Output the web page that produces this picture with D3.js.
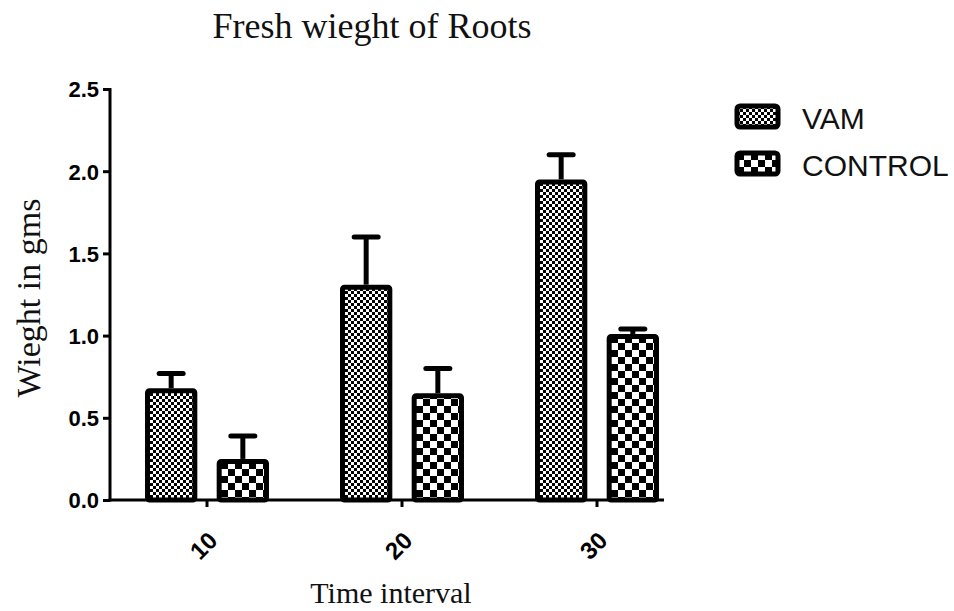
<!DOCTYPE html>
<html>
<head>
<meta charset="utf-8">
<script src="https://cdn.jsdelivr.net/npm/d3@7"></script>
<style>
  body { margin: 0; background: #fff; }
  svg { display: block; }
</style>
</head>
<body>
<div id="chart"></div>
<script>
var categories = ['10', '20', '30'];
var seriesNames = ['VAM', 'CONTROL'];
var vamValues = [0.68, 1.31, 1.95];
var vamErrors = [0.09, 0.29, 0.15];
var controlValues = [0.25, 0.65, 1.01];
var controlErrors = [0.14, 0.15, 0.03];
var yTicks = [0.0, 0.5, 1.0, 1.5, 2.0, 2.5];

var width = 954;
var height = 611;

var svg = d3.select('#chart').append('svg')
  .attr('width', width)
  .attr('height', height);

var defs = svg.append('defs');

// fine checker for VAM
var fine = defs.append('pattern')
  .attr('id', 'fine')
  .attr('patternUnits', 'userSpaceOnUse')
  .attr('width', 6).attr('height', 6);
fine.append('rect').attr('width', 6).attr('height', 6).attr('fill', '#fff');
fine.append('rect').attr('width', 3).attr('height', 3).attr('fill', '#000');
fine.append('rect').attr('x', 3).attr('y', 3).attr('width', 3).attr('height', 3).attr('fill', '#000');

// coarse checker for CONTROL
var coarse = defs.append('pattern')
  .attr('id', 'coarse')
  .attr('patternUnits', 'userSpaceOnUse')
  .attr('width', 14).attr('height', 14);
coarse.append('rect').attr('width', 14).attr('height', 14).attr('fill', '#fff');
coarse.append('rect').attr('width', 7).attr('height', 7).attr('fill', '#000');
coarse.append('rect').attr('x', 7).attr('y', 7).attr('width', 7).attr('height', 7).attr('fill', '#000');

var fills = { VAM: 'url(#fine)', CONTROL: 'url(#coarse)' };

var data = categories.map(function (c, i) {
  return {
    cat: c,
    bars: [
      { key: 'VAM', value: vamValues[i], err: vamErrors[i] },
      { key: 'CONTROL', value: controlValues[i], err: controlErrors[i] }
    ]
  };
});

var x = d3.scaleBand()
  .domain(categories)
  .range([109.5, 694.5])
  .padding(0);

var x1 = d3.scaleBand()
  .domain(seriesNames)
  .range([-62, 62])
  .paddingInner(0.27)
  .paddingOuter(0);

var y = d3.scaleLinear()
  .domain([0, 2.5])
  .range([500, 89]);

var axisX = 110;
var sw = 5;

// bars
var groups = svg.selectAll('.group')
  .data(data)
  .enter().append('g')
  .attr('class', 'group')
  .attr('transform', function (d) { return 'translate(' + (x(d.cat) + x.bandwidth() / 2) + ',0)'; });

// error bars (behind bars)
groups.selectAll('.err')
  .data(function (d) { return d.bars; })
  .enter().append('g')
  .attr('class', 'err')
  .each(function (d) {
    var g = d3.select(this);
    var cx = x1(d.key) + x1.bandwidth() / 2;
    g.append('line')
      .attr('x1', cx).attr('x2', cx)
      .attr('y1', y(d.value)).attr('y2', y(d.value + d.err))
      .attr('stroke', '#000').attr('stroke-width', 5);
    g.append('line')
      .attr('x1', cx - 12).attr('x2', cx + 12)
      .attr('y1', y(d.value + d.err)).attr('y2', y(d.value + d.err))
      .attr('stroke', '#000').attr('stroke-width', 5)
      .attr('stroke-linecap', 'round');
  });

groups.selectAll('.bar')
  .data(function (d) { return d.bars; })
  .enter().append('rect')
  .attr('class', 'bar')
  .attr('x', function (d) { return x1(d.key) + sw / 2; })
  .attr('width', x1.bandwidth() - sw)
  .attr('y', function (d) { return y(d.value) + sw / 2; })
  .attr('height', function (d) { return y(0) - y(d.value) - sw / 2; })
  .attr('rx', 2)
  .attr('fill', function (d) { return fills[d.key]; })
  .attr('stroke', '#000')
  .attr('stroke-width', sw);

// y axis
var yAxis = d3.axisLeft(y)
  .tickValues(yTicks)
  .tickFormat(d3.format('.1f'))
  .tickSize(7)
  .tickPadding(4);

var gy = svg.append('g')
  .attr('transform', 'translate(' + axisX + ',0)')
  .call(yAxis);
gy.select('.domain').remove();
gy.append('line')
  .attr('x1', 0).attr('x2', 0)
  .attr('y1', y(2.5) - 1).attr('y2', y(0) + 1.5)
  .attr('stroke', '#000').attr('stroke-width', 3);
gy.selectAll('.tick line').attr('stroke', '#000').attr('stroke-width', 3);
gy.selectAll('.tick text')
  .attr('fill', '#000')
  .style('font-family', '"Liberation Sans", Arial, sans-serif')
  .style('font-weight', 'bold')
  .style('font-size', '22px')
  .attr('dy', '0.36em');

// x axis
var xAxis = d3.axisBottom(x)
  .tickSize(7)
  .tickPadding(6);

var gx = svg.append('g')
  .attr('transform', 'translate(0,' + y(0) + ')')
  .call(xAxis);
gx.select('.domain').remove();
gx.append('line')
  .attr('x1', axisX - 1.5).attr('x2', 664)
  .attr('y1', 0).attr('y2', 0)
  .attr('stroke', '#000').attr('stroke-width', 3);
gx.selectAll('.tick line').attr('stroke', '#000').attr('stroke-width', 3);
gx.selectAll('.tick text')
  .attr('fill', '#000')
  .style('font-family', '"Liberation Sans", Arial, sans-serif')
  .style('font-weight', 'bold')
  .style('font-size', '24px')
  .attr('text-anchor', 'end')
  .attr('dy', null)
  .attr('y', 0)
  .attr('transform', 'translate(12,42) rotate(-45)');

// titles
svg.append('text')
  .attr('x', 372).attr('y', 38)
  .attr('text-anchor', 'middle')
  .style('font-family', '"Liberation Serif", "Times New Roman", serif')
  .style('font-size', '36px')
  .attr('fill', '#111')
  .text('Fresh wieght of Roots');

svg.append('text')
  .attr('x', 391).attr('y', 603)
  .attr('text-anchor', 'middle')
  .style('font-family', '"Liberation Serif", "Times New Roman", serif')
  .style('font-size', '30px')
  .attr('fill', '#111')
  .text('Time interval');

svg.append('text')
  .attr('transform', 'translate(40,298) rotate(-90)')
  .attr('text-anchor', 'middle')
  .style('font-family', '"Liberation Serif", "Times New Roman", serif')
  .style('font-size', '34px')
  .attr('fill', '#111')
  .text('Wieght in gms');

// legend
var legend = svg.selectAll('.legend')
  .data(seriesNames)
  .enter().append('g')
  .attr('class', 'legend')
  .attr('transform', function (d, i) { return 'translate(737,' + (106 + i * 47) + ')'; });

legend.append('rect')
  .attr('width', 41).attr('height', 21)
  .attr('rx', 3)
  .attr('fill', function (d) { return fills[d]; })
  .attr('stroke', '#000')
  .attr('stroke-width', 5);

legend.append('text')
  .attr('x', 65).attr('y', 23)
  .style('font-family', '"Liberation Sans", Arial, sans-serif')
  .style('font-size', '30px')
  .attr('fill', '#111')
  .text(function (d) { return d; });
</script>
</body>
</html>
